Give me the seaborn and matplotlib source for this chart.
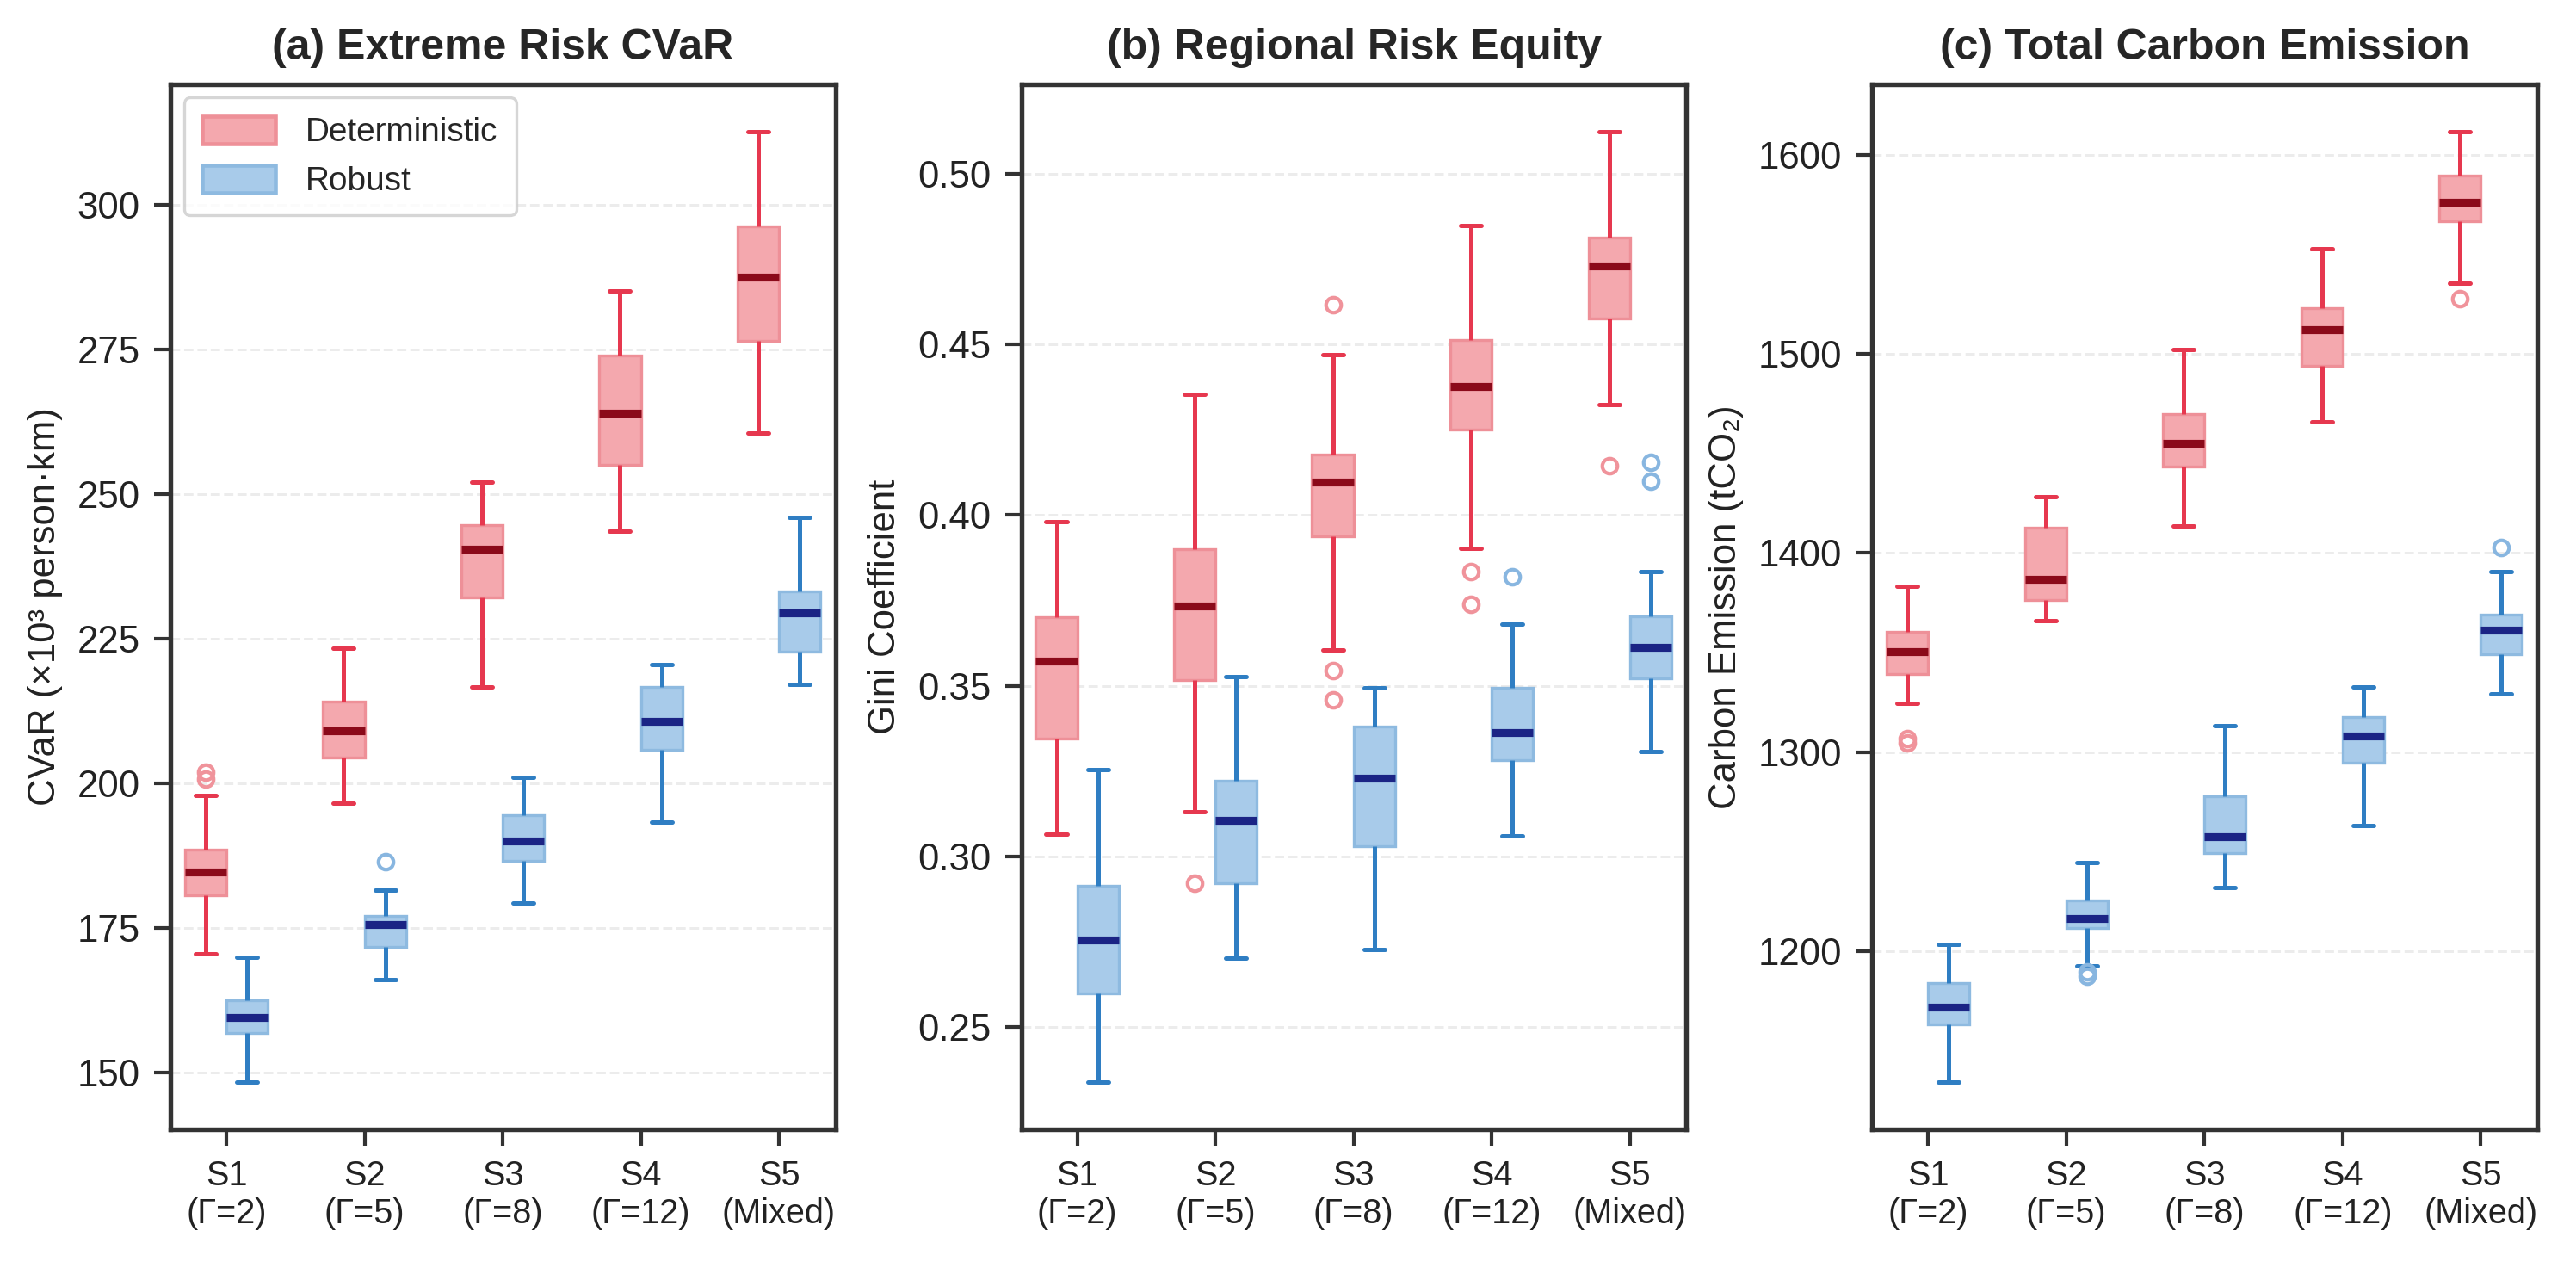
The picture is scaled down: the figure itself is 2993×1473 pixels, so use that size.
import numpy as np
import pandas as pd
import matplotlib
matplotlib.use("Agg")
import matplotlib.pyplot as plt
import seaborn as sns

# ---------------- data ----------------
scenarios = ["S1\n(Γ=2)", "S2\n(Γ=5)", "S3\n(Γ=8)", "S4\n(Γ=12)", "S5\n(Mixed)"]
methods = ["Deterministic", "Robust"]

# (a) Extreme Risk CVaR
cvar_det_lo = [170.6, 196.6, 216.7, 243.6, 260.5]
cvar_det_q1 = [180.7, 204.4, 232.1, 255.0, 276.4]
cvar_det_med = [184.6, 209.1, 240.5, 263.9, 287.5]
cvar_det_q3 = [188.6, 214.2, 244.6, 273.9, 296.2]
cvar_det_hi = [197.9, 223.3, 252.1, 285.1, 312.6]
cvar_det_out = [[200.8, 202.0], [], [], [], []]

cvar_rob_lo = [148.4, 166.1, 179.3, 193.3, 217.1]
cvar_rob_q1 = [156.8, 171.7, 186.6, 205.8, 222.8]
cvar_rob_med = [159.5, 175.6, 190.0, 210.7, 229.4]
cvar_rob_q3 = [162.5, 177.1, 194.5, 216.6, 233.2]
cvar_rob_hi = [170.0, 181.6, 201.1, 220.6, 245.9]
cvar_rob_out = [[], [186.4], [], [], []]

# (b) Regional Risk Equity (Gini)
gini_det_lo = [0.3067, 0.3131, 0.3605, 0.3903, 0.4324]
gini_det_q1 = [0.3345, 0.3516, 0.3937, 0.4251, 0.4577]
gini_det_med = [0.3572, 0.3734, 0.4097, 0.4376, 0.4731]
gini_det_q3 = [0.3700, 0.3900, 0.4179, 0.4513, 0.4813]
gini_det_hi = [0.3980, 0.4354, 0.4471, 0.4849, 0.5123]
gini_det_out = [[], [0.2922], [0.3459, 0.3546, 0.4616], [0.3738, 0.3835], [0.4146]]

gini_rob_lo = [0.2340, 0.2702, 0.2727, 0.3061, 0.3308]
gini_rob_q1 = [0.2600, 0.2921, 0.3030, 0.3283, 0.3521]
gini_rob_med = [0.2755, 0.3106, 0.3230, 0.3364, 0.3614]
gini_rob_q3 = [0.2915, 0.3222, 0.3380, 0.3494, 0.3704]
gini_rob_hi = [0.3255, 0.3527, 0.3494, 0.3680, 0.3835]
gini_rob_out = [[], [], [], [0.3820], [0.4100, 0.4155]]

# (c) Total Carbon Emission
co2_det_lo = [1324.4, 1365.8, 1413.5, 1465.9, 1535.5]
co2_det_q1 = [1339.2, 1376.2, 1443.1, 1493.9, 1566.4]
co2_det_med = [1350.2, 1386.5, 1454.9, 1511.9, 1576.2]
co2_det_q3 = [1360.4, 1412.8, 1469.8, 1522.7, 1589.6]
co2_det_hi = [1383.4, 1428.0, 1502.0, 1552.7, 1611.4]
co2_det_out = [[1304.5, 1306.5], [], [], [], [1527.5]]

co2_rob_lo = [1134.3, 1192.4, 1231.8, 1262.9, 1329.2]
co2_rob_q1 = [1163.3, 1211.4, 1249.2, 1294.7, 1349.2]
co2_rob_med = [1171.8, 1216.3, 1257.6, 1307.8, 1361.0]
co2_rob_q3 = [1183.9, 1225.4, 1277.8, 1317.4, 1368.9]
co2_rob_hi = [1203.6, 1244.5, 1313.3, 1332.6, 1390.7]
co2_rob_out = [[], [1187.5, 1189.5], [], [], [1402.5]]

titles = ["(a) Extreme Risk CVaR", "(b) Regional Risk Equity", "(c) Total Carbon Emission"]
ylabels = ["CVaR (×10³ person·km)", "Gini Coefficient", "Carbon Emission (tCO₂)"]


def box_sample(lo, q1, med, q3, hi, out, reps=20):
    """Expand a read box summary into observations whose quartiles,
    whiskers and outliers reproduce it (each read value repeated)."""
    low = [v for v in out if v < q1]
    high = [v for v in out if v > q3]
    return low + [lo] + [q1] * reps + [med] * reps + [q3] * reps + [hi] + high


def long_frame(det, rob):
    rows = []
    for meth, stats in zip(methods, (det, rob)):
        for i, sc in enumerate(scenarios):
            vals = box_sample(*(s[i] for s in stats))
            rows += [(sc, meth, v) for v in vals]
    return pd.DataFrame(rows, columns=["scenario", "method", "value"])


frames = [
    long_frame((cvar_det_lo, cvar_det_q1, cvar_det_med, cvar_det_q3, cvar_det_hi, cvar_det_out),
               (cvar_rob_lo, cvar_rob_q1, cvar_rob_med, cvar_rob_q3, cvar_rob_hi, cvar_rob_out)),
    long_frame((gini_det_lo, gini_det_q1, gini_det_med, gini_det_q3, gini_det_hi, gini_det_out),
               (gini_rob_lo, gini_rob_q1, gini_rob_med, gini_rob_q3, gini_rob_hi, gini_rob_out)),
    long_frame((co2_det_lo, co2_det_q1, co2_det_med, co2_det_q3, co2_det_hi, co2_det_out),
               (co2_rob_lo, co2_rob_q1, co2_rob_med, co2_rob_q3, co2_rob_hi, co2_rob_out)),
]

# ---------------- style ----------------
sns.set_style("ticks")
plt.rcParams["font.family"] = ["Liberation Sans", "DejaVu Sans"]
plt.rcParams["axes.edgecolor"] = "#333333"
plt.rcParams["axes.linewidth"] = 1.3
plt.rcParams["xtick.color"] = "#333333"
plt.rcParams["ytick.color"] = "#333333"
plt.rcParams["xtick.labelcolor"] = "#222222"
plt.rcParams["ytick.labelcolor"] = "#222222"

face = {"Deterministic": "#F4A8AE", "Robust": "#A8CBEA"}
edge = {"Deterministic": "#EE9098", "Robust": "#8EBAE0"}
whisk = {"Deterministic": "#E6384F", "Robust": "#2F7EC3"}
medc = {"Deterministic": "#8B0A1A", "Robust": "#1B2485"}
flc = {"Deterministic": "#F0939B", "Robust": "#88B6E0"}

fig, axes = plt.subplots(1, 3, figsize=(2993 / 300, 1473 / 300), dpi=300)
fig.subplots_adjust(left=0.0662, right=0.985, bottom=0.1093, top=0.9335, wspace=0.2794)

yticks = [np.arange(150, 301, 25), np.arange(0.25, 0.501, 0.05), np.arange(1200, 1601, 100)]

for k, ax in enumerate(axes):
    sns.boxplot(data=frames[k], x="scenario", y="value", hue="method",
                order=scenarios, hue_order=methods, palette=face,
                width=0.6, gap=0, linewidth=1.1, fliersize=4.2,
                legend=(k == 0), ax=ax)
    for cont, meth in zip(ax.containers, methods):
        for b in cont.boxes:
            b.set_facecolor(face[meth])
            b.set_edgecolor(edge[meth])
            b.set_linewidth(0.8)
        for m in cont.medians:
            m.set_color(medc[meth])
            m.set_linewidth(2.2)
        for w in cont.whiskers:
            w.set_color(whisk[meth])
            w.set_linewidth(1.2)
        for c in cont.caps:
            c.set_color(whisk[meth])
            c.set_linewidth(1.2)
        for f in cont.fliers:
            f.set_marker("o")
            f.set_markerfacecolor("none")
            f.set_markeredgecolor(flc[meth])
            f.set_markeredgewidth(1.0)
            f.set_markersize(4.2)

    ax.set_title(titles[k], fontsize=12, fontweight="bold", pad=7)
    ax.set_xlabel("")
    ax.set_ylabel(ylabels[k], fontsize=10.5, color="#222222")
    ax.set_xlim(-0.404, 4.41)
    ax.set_yticks(yticks[k])
    if k == 1:
        ax.yaxis.set_major_formatter(matplotlib.ticker.FormatStrFormatter("%.2f"))
    else:
        ax.yaxis.set_major_formatter(matplotlib.ticker.FormatStrFormatter("%d"))
    ax.tick_params(axis="y", labelsize=10.5, length=4.5, width=1.0, pad=4)
    ax.tick_params(axis="x", labelsize=9.5, length=4.5, width=1.0, pad=4)
    for sp in ax.spines.values():
        sp.set_visible(True)
        sp.set_color("#333333")
        sp.set_linewidth(1.3)
    ax.yaxis.grid(True, linestyle="--", color="#ececec", linewidth=0.7)
    ax.set_axisbelow(True)

sns.move_legend(axes[0], "upper left", title=None, frameon=True, fontsize=9.3,
                borderaxespad=0.4, handlelength=2.2, handleheight=0.9,
                labelspacing=0.5, borderpad=0.55, handletextpad=0.9)
leg = axes[0].get_legend()
leg.get_frame().set_edgecolor("#cccccc")
leg.get_frame().set_linewidth(0.8)
for h, meth in zip(leg.legend_handles, methods):
    h.set_facecolor(face[meth])
    h.set_edgecolor(edge[meth])

fig.savefig("out.png", dpi=300)
